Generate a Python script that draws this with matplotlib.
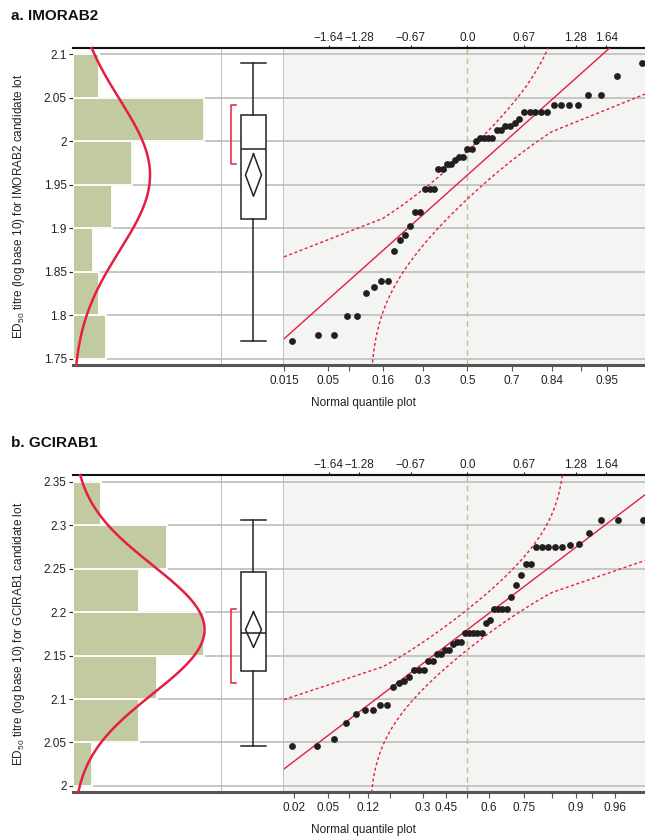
import matplotlib
matplotlib.use('Agg')
import matplotlib.pyplot as plt
from matplotlib.ticker import FixedLocator
import numpy as np
from statistics import NormalDist

plt.rcParams['font.family'] = ['Liberation Sans', 'DejaVu Sans']
plt.rcParams['mathtext.default'] = 'regular'

# ---- data (sorted ED50 titres, log base 10) ----
imorab2 = [1.771, 1.778, 1.778, 1.799, 1.799, 1.826, 1.832, 1.839, 1.839, 1.874,
           1.886, 1.892, 1.903, 1.919, 1.919, 1.945, 1.945, 1.945, 1.968, 1.968,
           1.974, 1.974, 1.978, 1.982, 1.982, 1.991, 1.991, 2.000, 2.004, 2.004,
           2.004, 2.004, 2.013, 2.013, 2.017, 2.017, 2.021, 2.026, 2.033, 2.033,
           2.033, 2.033, 2.033, 2.041, 2.041, 2.041, 2.041, 2.053, 2.053, 2.075,
           2.090]
gcirab1 = [2.046, 2.046, 2.054, 2.072, 2.083, 2.087, 2.087, 2.093, 2.093, 2.114,
           2.118, 2.121, 2.125, 2.134, 2.134, 2.134, 2.144, 2.144, 2.152, 2.152,
           2.156, 2.156, 2.163, 2.166, 2.166, 2.176, 2.176, 2.176, 2.176, 2.176,
           2.188, 2.191, 2.204, 2.204, 2.204, 2.204, 2.218, 2.231, 2.243, 2.256,
           2.256, 2.275, 2.275, 2.275, 2.275, 2.275, 2.277, 2.279, 2.291, 2.306,
           2.306, 2.306]

imorab2_yticks = [1.75, 1.8, 1.85, 1.9, 1.95, 2.0, 2.05, 2.1]
gcirab1_yticks = [2.0, 2.05, 2.1, 2.15, 2.2, 2.25, 2.3, 2.35]
imorab2_ylim = (1.743, 2.107)
gcirab1_ylim = (1.993, 2.358)

imorab2_probs = [0.015, 0.05, 0.16, 0.3, 0.5, 0.7, 0.84, 0.95]
imorab2_prob_labels = ['0.015', '0.05', '0.16', '0.3', '0.5', '0.7', '0.84', '0.95']
imorab2_prob_minor = [0.08, 0.91]
gcirab1_probs = [0.02, 0.05, 0.12, 0.3, 0.4, 0.6, 0.75, 0.9, 0.96]
gcirab1_prob_labels = ['0.02', '0.05', '0.12', '0.3', '0.45', '0.6', '0.75', '0.9', '0.96']
gcirab1_prob_minor = [0.08, 0.18, 0.5, 0.84, 0.93]

z_ticks = [-1.64, -1.28, -0.67, 0.0, 0.67, 1.28, 1.64]
z_labels = ['\u22121.64', '\u22121.28', '\u22120.67', '0.0', '0.67', '1.28', '1.64']

RED = '#e51e43'
BAR = '#c2caa2'
GRID = '#c2c2c2'
DARK = '#222222'
ND = NormalDist()

W, H = 645, 836
fig = plt.figure(figsize=(W / 100, H / 100), dpi=100)


def fx(px):
    return px / W


def fy(px):
    return 1 - px / H


def panel(top, bottom, data, ylim, yticks, probs, prob_labels, prob_minor, title, lot):
    data = np.array(data)
    n = len(data)
    mean = data.mean()
    sd = data.std(ddof=1)
    y0, hgt = fy(bottom), (bottom - top) / H

    ax_h = fig.add_axes([fx(73), y0, fx(222) - fx(73), hgt])
    ax_b = fig.add_axes([fx(222), y0, fx(284) - fx(222), hgt])
    ax_q = fig.add_axes([fx(284), y0, fx(645) - fx(284), hgt])

    for ax in (ax_h, ax_b, ax_q):
        ax.set_ylim(ylim)
        ax.yaxis.set_major_locator(FixedLocator(yticks))
        ax.grid(axis='y', color=GRID, lw=1.3, zorder=0)
        ax.set_axisbelow(True)
        ax.spines['top'].set_color('#111111')
        ax.spines['top'].set_linewidth(1.5)
        ax.spines['bottom'].set_color('#555555')
        ax.spines['bottom'].set_linewidth(2.2)
        ax.spines['left'].set_visible(False)
        ax.spines['right'].set_color('#b4b4b4')
        ax.spines['right'].set_linewidth(1.2)
        ax.tick_params(axis='x', bottom=False, labelbottom=False)
        ax.tick_params(axis='y', left=False, labelleft=False)
    ax_q.spines['right'].set_visible(False)

    # histogram + fitted normal
    counts, edges = np.histogram(data, bins=yticks)
    bw = edges[1] - edges[0]
    ax_h.barh(edges[:-1], counts, height=bw, align='edge', color=BAR,
              edgecolor='white', lw=1.3, zorder=2)
    ax_h.set_xlim(0, counts.max() * 1.135)
    yy = np.linspace(ylim[0], ylim[1], 300)
    pdf = np.exp(-0.5 * ((yy - mean) / sd) ** 2) / (sd * np.sqrt(2 * np.pi))
    ax_h.plot(n * bw * pdf, yy, color=RED, lw=1.8, zorder=3, clip_on=False)
    ax_h.tick_params(axis='y', left=True, labelleft=True, length=3, width=0.8,
                     color=DARK, labelsize=8.5, labelcolor=DARK, pad=1.5)
    ax_h.set_yticklabels(['%g' % t for t in yticks])

    # outlier box plot with mean diamond and shortest half
    ax_b.set_xlim(0, 1)
    ax_b.boxplot(data, positions=[0.508], widths=0.413, capwidths=0.413,
                 patch_artist=True, showfliers=False,
                 boxprops=dict(facecolor='white', edgecolor=DARK, lw=1.1),
                 medianprops=dict(color=DARK, lw=1.1),
                 whiskerprops=dict(color=DARK, lw=1.1),
                 capprops=dict(color=DARK, lw=1.1), zorder=3)
    ci = 2.01 * sd / np.sqrt(n)
    ax_b.plot([0.508, 0.637, 0.508, 0.379, 0.508],
              [mean + ci, mean, mean - ci, mean, mean + ci], color=DARK, lw=1.1, zorder=4)
    half = (n + 1) // 2
    widths = data[half - 1:] - data[:n - half + 1]
    i = int(np.argmin(widths))
    lo, hi = data[i], data[i + half - 1]
    ax_b.plot([0.22, 0.14, 0.14, 0.22], [hi, hi, lo, lo], color=RED, lw=1.1, zorder=3)
    ax_b.set_xticks([])

    # normal quantile plot
    ax_q.set_facecolor('#f4f4f2')
    ax_q.set_xlim(-2.17, 2.10)
    z = np.array([ND.inv_cdf((k + 1) / (n + 1)) for k in range(n)])
    ax_q.axvline(0, color='#bdbd98', lw=1, ls=(0, (4, 3)), zorder=1)
    zl = np.array(ax_q.get_xlim())
    ax_q.plot(zl, mean + sd * zl, color=RED, lw=1, zorder=3)
    d = 0.886 / np.sqrt(n)
    zu = np.concatenate([[zl[0]], np.linspace(-1.0, ND.inv_cdf(1 - d) - 1e-4, 300)])
    pu = np.minimum([ND.cdf(v) + d for v in zu], 0.99999)
    ax_q.plot(zu, mean + sd * np.array([ND.inv_cdf(p) for p in pu]),
              color=RED, lw=1, ls=(0, (2.2, 1.8)), zorder=3)
    zd = np.concatenate([np.linspace(ND.inv_cdf(d) + 1e-4, 1.0, 300), [zl[1]]])
    pd_ = np.maximum([ND.cdf(v) - d for v in zd], 0.00001)
    ax_q.plot(zd, mean + sd * np.array([ND.inv_cdf(p) for p in pd_]),
              color=RED, lw=1, ls=(0, (2.2, 1.8)), zorder=3)
    ax_q.scatter(z, data, s=24, color='#231f20', zorder=4, lw=0)

    ax_q.set_xticks([ND.inv_cdf(p) for p in probs])
    ax_q.set_xticklabels(prob_labels)
    ax_q.set_xticks([ND.inv_cdf(p) for p in prob_minor], minor=True)
    ax_q.tick_params(axis='x', which='both', bottom=True, labelbottom=True, length=4,
                     width=0.8, color='#555555', labelsize=8.5, labelcolor=DARK, pad=3)
    top_ax = ax_q.secondary_xaxis('top')
    top_ax.set_xticks(z_ticks)
    top_ax.set_xticklabels(z_labels)
    top_ax.spines['top'].set_color('#111111')
    top_ax.spines['top'].set_linewidth(1.5)
    top_ax.tick_params(length=2.5, width=0.8, color=DARK, labelsize=8.5,
                       labelcolor=DARK, pad=0.5)

    fig.text(fx(11), fy(top - 32), title, fontsize=11, fontweight='bold',
             color='#111111', va='center', ha='left')
    fig.text(fx(363), fy(bottom + 38), 'Normal quantile plot', fontsize=8.5,
             color=DARK, ha='center', va='center')
    fig.text(fx(19), fy((top + bottom) / 2),
             'ED$_{50}$ titre (log base 10) for %s candidate lot' % lot,
             rotation=90, fontsize=8.5, color=DARK, ha='center', va='center')


panel(48, 365, imorab2, imorab2_ylim, imorab2_yticks, imorab2_probs,
      imorab2_prob_labels, imorab2_prob_minor, 'a. IMORAB2', 'IMORAB2')
panel(475, 792, gcirab1, gcirab1_ylim, gcirab1_yticks, gcirab1_probs,
      gcirab1_prob_labels, gcirab1_prob_minor, 'b. GCIRAB1', 'GCIRAB1')

fig.savefig('out.png', dpi=100)
